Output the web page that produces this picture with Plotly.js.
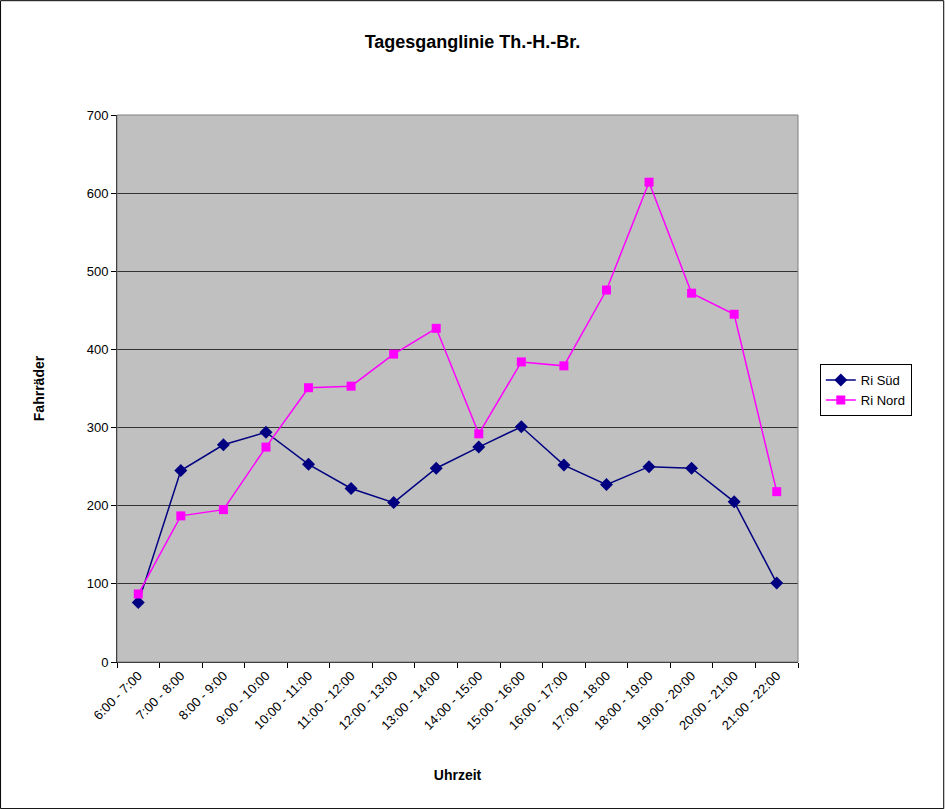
<!DOCTYPE html>
<html>
<head>
<meta charset="utf-8">
<script src="https://cdn.plot.ly/plotly-3.0.1.min.js"></script>
<style>html,body{margin:0;padding:0;background:#fff;}#chart{width:945px;height:809px;}</style>
</head>
<body>
<div id="chart"></div>
<script>
const categories = ["6:00 - 7:00","7:00 - 8:00","8:00 - 9:00","9:00 - 10:00","10:00 - 11:00","11:00 - 12:00","12:00 - 13:00","13:00 - 14:00","14:00 - 15:00","15:00 - 16:00","16:00 - 17:00","17:00 - 18:00","18:00 - 19:00","19:00 - 20:00","20:00 - 21:00","21:00 - 22:00"];
const riSued = [76, 245, 278, 294, 253, 222, 204, 248, 275, 301, 252, 227, 250, 248, 205, 101];
const riNord = [87, 187, 195, 275, 351, 353, 394, 427, 292, 384, 379, 476, 614, 472, 445, 218];
const yTicks = [0, 100, 200, 300, 400, 500, 600, 700];

const font = "Liberation Sans, Arial, sans-serif";
const traces = [
  {x: categories, y: riSued, name: "Ri Süd", type: "scatter", mode: "lines+markers",
   line: {color: "#000080", width: 1.5}, marker: {symbol: "diamond", size: 10, color: "#000080"}},
  {x: categories, y: riNord, name: "Ri Nord", type: "scatter", mode: "lines+markers",
   line: {color: "#FF00FF", width: 1.5}, marker: {symbol: "square", size: 9, color: "#FF00FF"}}
];
const layout = {
  width: 945, height: 809,
  paper_bgcolor: "#ffffff", plot_bgcolor: "#C0C0C0",
  margin: {l: 117, r: 147, t: 115, b: 147},
  font: {family: font, color: "#000", size: 12},
  title: {text: "<b>Tagesganglinie Th.-H.-Br.</b>", font: {size: 18, family: font}, x: 0.5, xanchor: "center", y: 0.948, yanchor: "middle"},
  showlegend: true,
  legend: {x: 1.032, xanchor: "left", y: 0.497, yanchor: "middle", bordercolor: "#000", borderwidth: 1, bgcolor: "#fff",
           font: {size: 13, family: font}, tracegroupgap: 0},
  xaxis: {type: "category", tickangle: -45, tickfont: {size: 13, family: font}, showgrid: false,
          ticks: "outside", tickson: "boundaries", ticklen: 5, tickcolor: "#000",
          showline: true, linecolor: "#000", linewidth: 1, range: [-0.5, 15.5],
          title: {text: "<b>Uhrzeit</b>", font: {size: 14, family: font}, standoff: 38}},
  yaxis: {range: [0, 700], tickvals: yTicks, ticks: "outside", ticklen: 5, tickcolor: "#000",
          tickfont: {size: 13, family: font}, showgrid: true, gridcolor: "#333", gridwidth: 1,
          showline: true, linecolor: "#000", linewidth: 1, zeroline: false,
          title: {text: "<b>Fahrräder</b>", font: {size: 14, family: font}, standoff: 38}},
  shapes: [
    {type: "rect", xref: "paper", yref: "paper", x0: 0, x1: 1, y0: 0, y1: 1, line: {color: "#808080", width: 1}},
    {type: "rect", xref: "paper", yref: "paper", x0: -0.171, x1: 1.214, y0: -0.268, y1: 1.209, line: {color: "#000", width: 1}}
  ]
};
Plotly.newPlot("chart", traces, layout, {displayModeBar: false});
</script>
</body>
</html>
